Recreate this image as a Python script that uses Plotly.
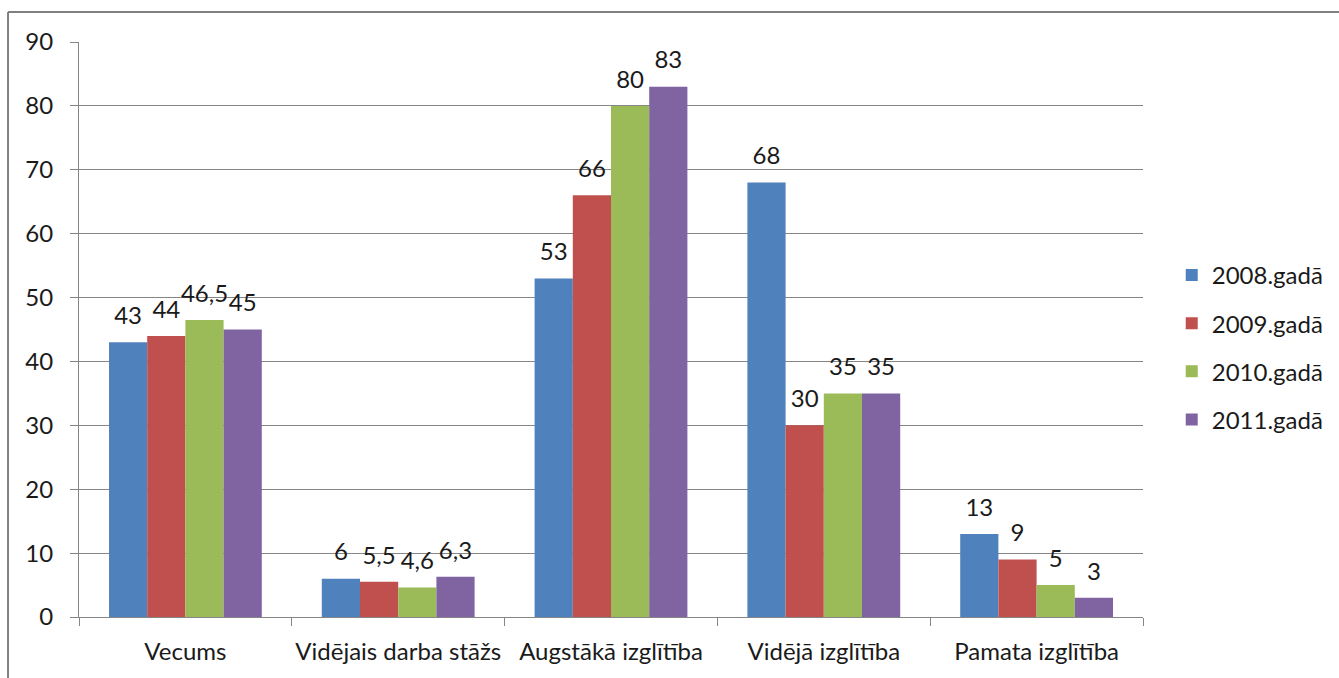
import plotly.graph_objects as go

categories = ["Vecums", "Vidējais darba stāžs", "Augstākā izglītība", "Vidējā izglītība", "Pamata izglītība"]
series_names = ["2008.gadā", "2009.gadā", "2010.gadā", "2011.gadā"]
v2008 = [43, 6, 53, 68, 13]
v2009 = [44, 5.5, 66, 30, 9]
v2010 = [46.5, 4.6, 80, 35, 5]
v2011 = [45, 6.3, 83, 35, 3]
y_ticks = [0, 10, 20, 30, 40, 50, 60, 70, 80, 90]

colors = ["#4F81BD", "#C0504D", "#9BBB59", "#8064A2"]
FONT = "Lato, Open Sans, sans-serif"

def fmt(v):
    s = ("%g" % v)
    return s.replace(".", ",")

fig = go.Figure()
for i, (name, vals, c) in enumerate(zip(series_names, [v2008, v2009, v2010, v2011], colors)):
    fig.add_trace(go.Bar(
        x=categories, y=vals, name=name, legendgroup=name, offsetgroup=str(i),
        marker=dict(color=c, line=dict(width=0)),
    ))
for i, (name, vals) in enumerate(zip(series_names, [v2008, v2009, v2010, v2011])):
    fig.add_trace(go.Scatter(
        x=categories, y=vals, mode="markers+text", offsetgroup=str(i),
        marker=dict(size=18, opacity=0), showlegend=False, hoverinfo="skip",
        text=[fmt(v) for v in vals], textposition="top center",
        textfont=dict(size=24, color="#1a1a1a", family=FONT),
        cliponaxis=False,
    ))

fig.update_layout(
    width=1339, height=678,
    margin=dict(l=79, r=196, t=42, b=61, autoexpand=False),
    paper_bgcolor="white", plot_bgcolor="white",
    barmode="group", bargap=0.282, bargroupgap=0,
    scattermode="group", scattergap=0.282,
    font=dict(family=FONT, size=24, color="#1a1a1a"),
    legend=dict(x=1.027, y=0.469, xanchor="left", yanchor="middle",
                font=dict(size=24, family=FONT), tracegroupgap=14,
                bgcolor="rgba(0,0,0,0)"),
    xaxis=dict(showline=True, linecolor="#868686", linewidth=1, automargin=False,
               ticks="outside", tickson="boundaries", ticklen=8, tickcolor="#868686",
               tickangle=0, tickfont=dict(size=24), ticklabelstandoff=13, showgrid=False),
    yaxis=dict(range=[0, 90], tickvals=y_ticks, showline=True, linecolor="#868686",
               linewidth=1, ticks="outside", ticklen=8, tickcolor="#868686", automargin=False,
               showgrid=True, gridcolor="#868686", gridwidth=1, zeroline=False,
               tickfont=dict(size=24), ticklabelstandoff=12),
    shapes=[
        dict(type="line", xref="paper", yref="paper", x0=-0.0667, x1=1.3, y0=1.052, y1=1.052,
             line=dict(color="#808080", width=2)),
        dict(type="line", xref="paper", yref="paper", x0=-0.0667, x1=-0.0667, y0=1.052, y1=-0.2,
             line=dict(color="#808080", width=2)),
    ],
)

fig.write_html("out.html", config={"displayModeBar": False},
               post_script="document.body.style.margin='0';document.body.style.overflow='hidden';")
